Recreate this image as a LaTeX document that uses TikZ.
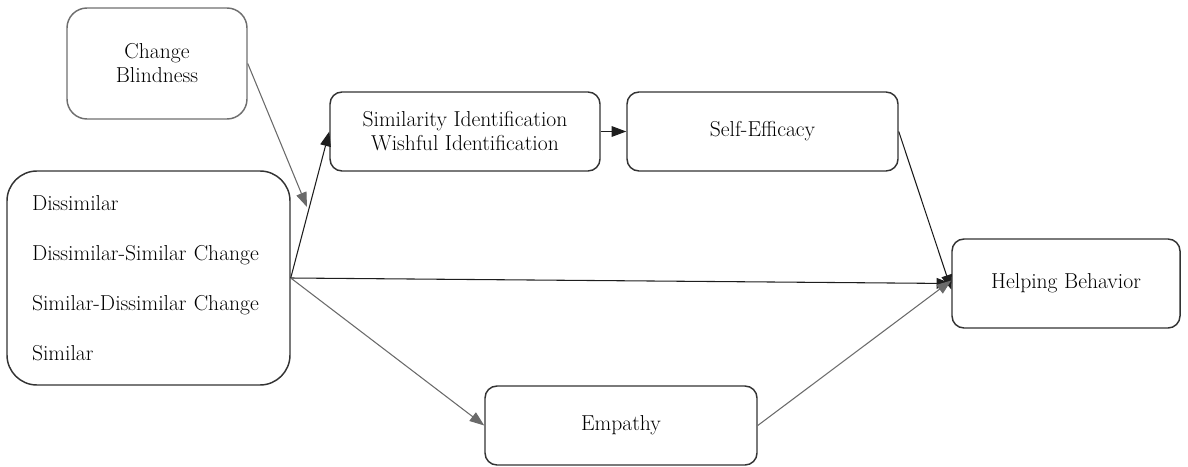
\documentclass[tikz,border=0pt]{standalone}
\usetikzlibrary{arrows.meta,calc}
\definecolor{boxline}{HTML}{333333}
\definecolor{cbline}{HTML}{6E6E6E}
\definecolor{darkarr}{HTML}{1E1E1E}
\definecolor{grayarr}{HTML}{6A6A6A}
\newcommand\pxu{0.75pt}
\tikzset{
  box/.style={draw=boxline, line width=1.1pt, rounded corners=12*\pxu, align=center,
    font=\fontsize{16.2}{18}\selectfont, inner sep=0pt},
  blk/.style={draw=darkarr, line width=0.8pt, -{Stealth[length=11pt,width=8pt,inset=0pt]}},
  gry/.style={draw=grayarr, line width=0.8pt, -{Stealth[length=11pt,width=8pt,inset=0pt]}, color=grayarr},
}
\begin{document}
\begin{tikzpicture}[x=0.75pt,y=-0.75pt]
\useasboundingbox (0,0) rectangle (1188,467);
\node[box, draw=cbline, rounded corners=20*\pxu, minimum width=180*\pxu, minimum height=111*\pxu] (CB) at (157,63.5) {Change\\Blindness};
\node[box, rounded corners=30*\pxu, minimum width=283*\pxu, minimum height=214*\pxu,
  align=left, text width=233*\pxu, inner xsep=25*\pxu, font=\fontsize{16.2}{37.5}\selectfont] (L) at (148.5,278)
  {Dissimilar\\Dissimilar-Similar Change\\Similar-Dissimilar Change\\Similar};
\node[box, minimum width=270*\pxu, minimum height=79*\pxu] (S) at (465,131.5) {Similarity Identification\\Wishful Identification};
\node[box, minimum width=271*\pxu, minimum height=79*\pxu] (SE) at (762.5,131.5) {Self-Efficacy};
\node[box, minimum width=228*\pxu, minimum height=89*\pxu] (H) at (1066,283.5) {Helping Behavior};
\node[box, minimum width=272*\pxu, minimum height=79*\pxu] (E) at (621,425.5) {Empathy};
\coordinate (M) at (307,207);
\draw[blk] (L.east) -- (S.west);
\draw[blk] (S.east) -- (SE.west);
\draw[blk] (SE.east) -- ([yshift=-6*\pxu]H.west);
\draw[blk] (L.east) -- (H.west);
\draw[gry] (CB.east) -- (M);
\draw[gry] (L.east) -- (E.west);
\draw[gry] (E.east) -- ([yshift=3*\pxu]H.west);
\end{tikzpicture}
\end{document}
